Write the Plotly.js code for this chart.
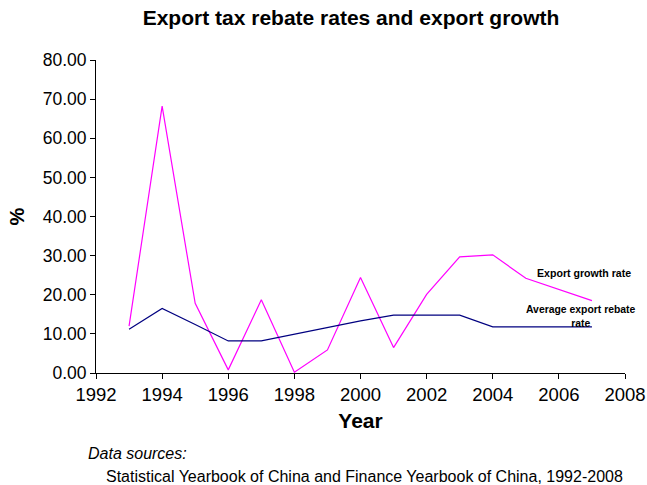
<!DOCTYPE html>
<html>
<head>
<meta charset="utf-8">
<script src="https://cdn.plot.ly/plotly-3.0.1.min.js"></script>
<style>html,body{margin:0;padding:0;background:#fff;}#chart{width:647px;height:485px;}</style>
</head>
<body>
<div id="chart"></div>
<script>
const years = [1993,1994,1995,1996,1997,1998,1999,2000,2001,2002,2003,2004,2005,2006,2007];
const exportGrowth = [12.0,68.2,17.8,0.8,18.7,0.2,5.9,24.4,6.5,20.1,29.7,30.2,24.2,21.3,18.5];
const rebateRate = [11.2,16.5,12.4,8.2,8.2,9.9,11.6,13.3,14.8,14.8,14.8,11.8,11.8,11.8,11.8];
const xTicks = [1992,1994,1996,1998,2000,2002,2004,2006,2008];
const yTicks = [0,10,20,30,40,50,60,70,80];

const font = 'Arial, "Liberation Sans", Helvetica, sans-serif';

const traces = [
  {x: years, y: exportGrowth, type:'scatter', mode:'lines', name:'Export growth rate',
   line:{color:'#ff00ff', width:1.2}},
  {x: years, y: rebateRate, type:'scatter', mode:'lines', name:'Average export rebate rate',
   line:{color:'#000080', width:1.2}}
];

const layout = {
  width:647, height:485,
  margin:{l:96, r:22, t:60, b:112},
  paper_bgcolor:'#fff', plot_bgcolor:'#fff',
  showlegend:false,
  font:{family:font, color:'#000'},
  title:{text:'<b>Export tax rebate rates and export growth</b>', font:{size:21, family:font, color:'#000'},
         xref:'container', x:351/647, xanchor:'center', yref:'container', y:1-18/485, yanchor:'middle'},
  xaxis:{range:[1992,2008], tickvals:xTicks, ticktext:xTicks.map(String), showgrid:false, zeroline:false,
         showline:true, linecolor:'#000', linewidth:1, ticks:'outside', ticklen:5, tickcolor:'#000',
         tickfont:{size:18.5, family:font}, fixedrange:true,
         title:{text:'<b>Year</b>', font:{size:21, family:font}, standoff:9}},
  yaxis:{range:[0,80], tickvals:yTicks, ticktext:yTicks.map(v=>v.toFixed(2)), showgrid:false, zeroline:false,
         showline:true, linecolor:'#000', linewidth:1, ticks:'outside', ticklen:5, tickcolor:'#000',
         tickfont:{size:17.5, family:font}, fixedrange:true,
         title:{text:'<b>%</b>', font:{size:20, family:font}, standoff:12}},
  annotations:[
    {xref:'paper', yref:'paper', x:(584-96)/529, y:(373-273)/313, text:'<b>Export growth rate</b>',
     showarrow:false, font:{size:10.6, family:font}, xanchor:'center', yanchor:'middle'},
    {xref:'paper', yref:'paper', x:(581-96)/529, y:(373-316)/313, text:'<b>Average export rebate<br>rate</b>',
     showarrow:false, font:{size:10.4, family:font}, xanchor:'center', yanchor:'middle', align:'center'},
    {xref:'paper', yref:'paper', x:(86-96)/529, y:(373-453)/313, text:'<i>Data sources:</i>',
     showarrow:false, font:{size:16, family:font}, xanchor:'left', yanchor:'middle'},
    {xref:'paper', yref:'paper', x:(104-96)/529, y:(373-476)/313, text:'Statistical Yearbook of China and Finance Yearbook of China, 1992-2008',
     showarrow:false, font:{size:16, family:font}, xanchor:'left', yanchor:'middle'}
  ]
};

Plotly.newPlot('chart', traces, layout, {staticPlot:true, displayModeBar:false});
</script>
</body>
</html>
